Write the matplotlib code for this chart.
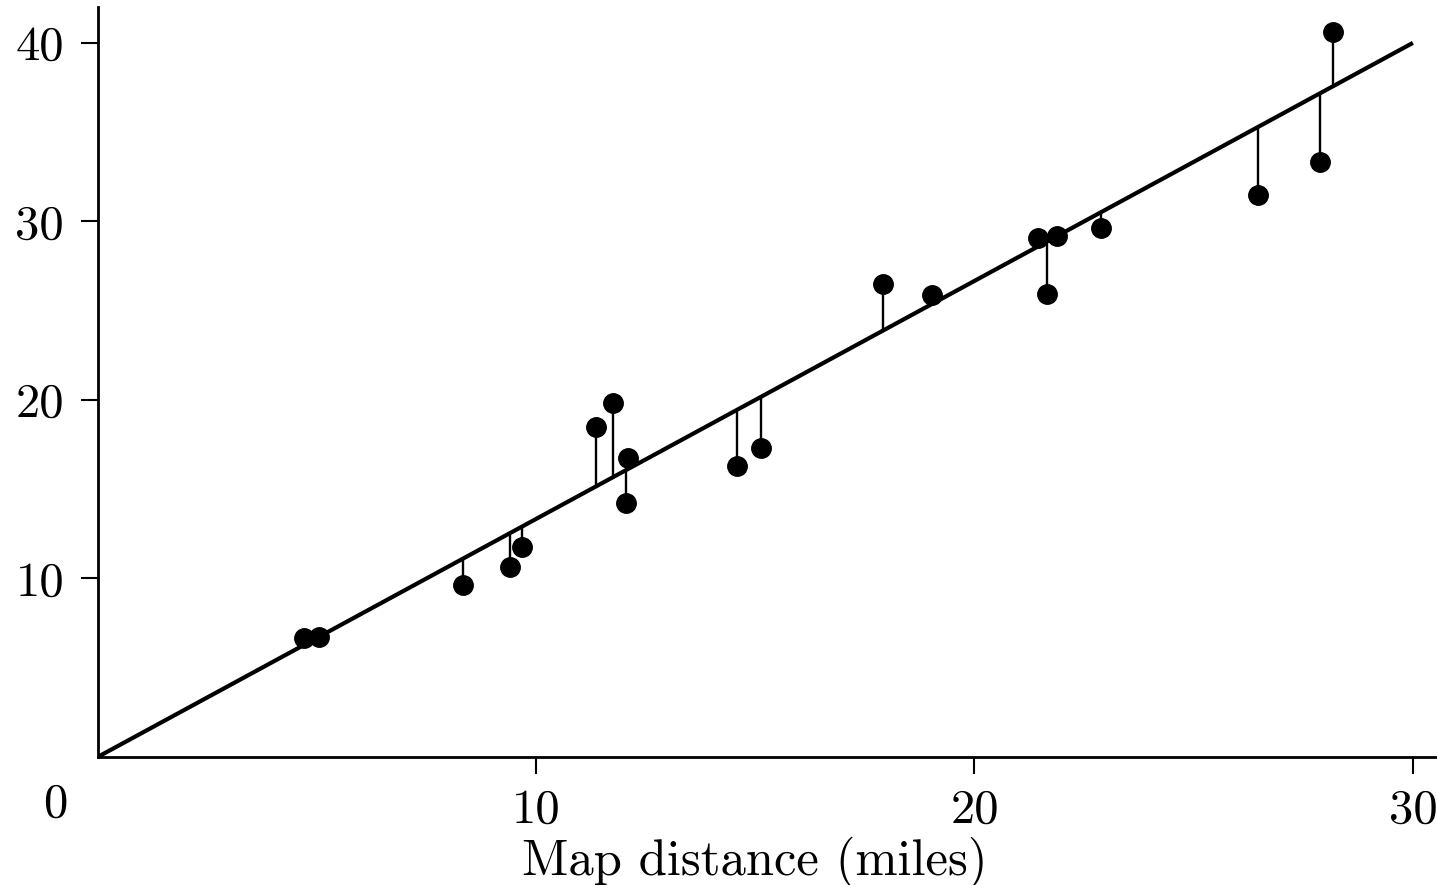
import numpy as np
import matplotlib
matplotlib.use('Agg')
import matplotlib.pyplot as plt

map_dist = [4.71, 5.05, 8.33, 9.41, 9.68, 11.37, 11.76, 12.10, 12.05, 14.58,
            15.13, 17.91, 19.03, 21.45, 21.65, 21.88, 22.89, 26.46, 27.88, 28.18]
road_dist = [6.67, 6.73, 9.64, 10.65, 11.77, 18.50, 19.84, 16.76, 14.24, 16.31,
             17.32, 26.51, 25.90, 29.04, 25.95, 29.15, 29.60, 31.45, 33.30, 40.58]

# fitted line through the origin
fit_slope = 1.333
fit_intercept = 0.0
fit_range = [0, 30]

x_ticks = [10, 20, 30]
y_ticks = [10, 20, 30, 40]

plt.rcParams['font.family'] = ['cmr10', 'DejaVu Serif']
plt.rcParams['axes.formatter.use_mathtext'] = True

fig = plt.figure(figsize=(14.37, 8.85), dpi=100)
ax = fig.add_axes([0.0679, 0.1446, 0.9321, 0.8475])

x = np.array(map_dist)
y = np.array(road_dist)
fitted = fit_intercept + fit_slope * x

# residual stems
ax.vlines(x, fitted, y, color='black', linewidth=1.7, zorder=2)

xl = np.array(fit_range)
ax.plot(xl, fit_intercept + fit_slope * xl, color='black', linewidth=3.0,
        solid_capstyle='butt', zorder=3)
ax.plot(x, y, 'o', color='black', markersize=14, zorder=4)

ax.set_xlim(0, 30.55)
ax.set_ylim(0, 42.0)

for side in ['top', 'right']:
    ax.spines[side].set_visible(False)
for side in ['left', 'bottom']:
    ax.spines[side].set_linewidth(2.0)

ax.set_xticks(x_ticks)
ax.set_xticklabels([str(t) for t in x_ticks])
ax.set_yticks(y_ticks)
ax.set_yticklabels([str(t) for t in y_ticks])
ax.tick_params(axis='both', direction='out', length=12, width=1.5, labelsize=35)
ax.tick_params(axis='x', pad=11)
ax.tick_params(axis='y', pad=12)

# the lone zero at the corner
ax.annotate('0', xy=(0, 0), xytext=(-30.6, -34.6), textcoords='offset points',
            ha='center', va='center', fontsize=35, annotation_clip=False)

ax.set_xlabel('Map distance (miles)', fontsize=36.5)
ax.xaxis.label.set_va('center')
ax.xaxis.set_label_coords(0.491, -0.14)

fig.savefig('out.png', dpi=100)
